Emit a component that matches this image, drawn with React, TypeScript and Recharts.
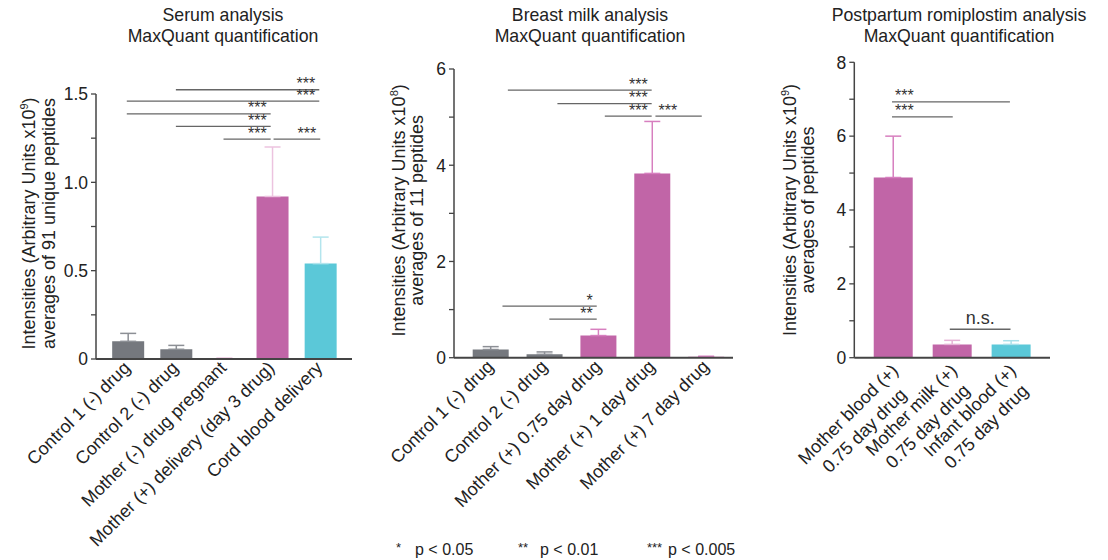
import React from 'react';
import { BarChart, Bar, XAxis, YAxis, ErrorBar, ReferenceLine } from 'recharts';

const FONT = '"Liberation Sans", Arial, Helvetica, sans-serif';
const INK = '#222';
const AXIS = '#444';
const GRAY = '#75787e';
const MAGENTA = '#c165a7';
const CYAN = '#5bc8d8';

// Serum analysis
const serumCategories = [
  'Control 1 (-) drug',
  'Control 2 (-) drug',
  'Mother (-) drug pregnant',
  'Mother (+) delivery (day 3 drug)',
  'Cord blood delivery',
];
const serumMeans = [0.1, 0.055, 0.004, 0.92, 0.54];
const serumErrors = [0.045, 0.022, 0, 0.28, 0.15];
const serumFills = [GRAY, GRAY, MAGENTA, MAGENTA, CYAN];
const serumErrorColors = ['#8c8f95', '#8c8f95', '#ecc3df', '#ecc3df', '#b3e5ed'];
const serumTicks = [0, 0.25, 0.5, 0.75, 1, 1.25, 1.5];
const serumTickLabels = ['0', '', '0.5', '', '1.0', '', '1.5'];
const serumSig = [
  { x1: 0.99, x2: 3.97, y: 1.524, text: '***', align: 'right' },
  { x1: -0.03, x2: 3.97, y: 1.46, text: '***', align: 'right' },
  { x1: -0.03, x2: 2.96, y: 1.388, text: '***', align: 'right' },
  { x1: 0.99, x2: 2.96, y: 1.317, text: '***', align: 'right' },
  { x1: 1.98, x2: 2.96, y: 1.245, text: '***', align: 'right' },
  { x1: 3.02, x2: 3.99, y: 1.245, text: '***', align: 'right' },
];

// Breast milk analysis
const milkCategories = [
  'Control 1 (-) drug',
  'Control 2 (-) drug',
  'Mother (+) 0.75 day drug',
  'Mother (+) 1 day drug',
  'Mother (+) 7 day drug',
];
const milkMeans = [0.17, 0.07, 0.46, 3.83, 0.02];
const milkErrors = [0.06, 0.05, 0.13, 1.08, 0.01];
const milkFills = [GRAY, GRAY, MAGENTA, MAGENTA, MAGENTA];
const milkErrorColors = ['#8c8f95', '#8c8f95', '#d77fbf', '#d77fbf', '#d77fbf'];
const milkTicks = [0, 1, 2, 3, 4, 5, 6];
const milkTickLabels = ['0', '', '2', '', '4', '', '6'];
const milkSig = [
  { x1: 0.32, x2: 2.99, y: 5.56, text: '***', align: 'right' },
  { x1: 1.24, x2: 2.99, y: 5.28, text: '***', align: 'right' },
  { x1: 2.12, x2: 2.99, y: 5.02, text: '***', align: 'right' },
  { x1: 3.06, x2: 3.92, y: 5.02, text: '***', align: 'left' },
  { x1: 0.22, x2: 1.97, y: 1.07, text: '*', align: 'right' },
  { x1: 1.09, x2: 1.97, y: 0.8, text: '**', align: 'right' },
];

// Postpartum romiplostim analysis
const romiCategories = [
  'Mother blood (+)\n0.75 day drug',
  'Mother milk (+)\n0.75 day drug',
  'Infant blood (+)\n0.75 day drug',
];
const romiMeans = [4.88, 0.36, 0.36];
const romiErrors = [1.12, 0.11, 0.1];
const romiFills = [MAGENTA, MAGENTA, CYAN];
const romiErrorColors = ['#d77fbf', '#e6b3d6', '#a9e0ea'];
const romiTicks = [0, 1, 2, 3, 4, 5, 6, 7, 8];
const romiTickLabels = ['0', '', '2', '', '4', '', '6', '', '8'];
const romiSig = [
  { x1: -0.02, x2: 1.98, y: 6.93, text: '***', align: 'left' },
  { x1: -0.02, x2: 1.01, y: 6.52, text: '***', align: 'left' },
  { x1: 0.96, x2: 1.99, y: 0.77, text: 'n.s.', align: 'center' },
];

const legendItems = [
  { stars: '*', text: 'p < 0.05' },
  { stars: '**', text: 'p < 0.01' },
  { stars: '***', text: 'p < 0.005' },
];

const LABEL_SIZE = 18;
const TICK_SIZE = 17.5;

let measureCtx: CanvasRenderingContext2D | null = null;
function textWidth(s: string, size: number) {
  if (!measureCtx) measureCtx = document.createElement('canvas').getContext('2d');
  if (!measureCtx) return s.length * size * 0.5;
  measureCtx.font = `${size}px "Liberation Sans"`;
  return measureCtx.measureText(s).width;
}

type Sig = { x1: number; x2: number; y: number; text: string; align: string };

interface PanelProps {
  left: number;
  width: number;
  plot: { l: number; r: number; t: number; b: number };
  categories: string[];
  means: number[];
  errors: number[];
  fills: string[];
  errorColors: string[];
  yTicks: number[];
  yTickLabels: string[];
  xDomain: [number, number];
  barSize: number;
  sig: Sig[];
  yLabel: { main: string; sup: string; sub: string; o1: number; o2: number; dy: number };
  tickShift: { dx: number; dy: number };
}

function Panel(p: PanelProps) {
  const yAxisWidth = 40;
  const xAxisHeight = 20;
  const data = p.categories.map((c, i) => {
    const row: Record<string, unknown> = { i };
    row[`v${i}`] = p.means[i];
    row[`e${i}`] = [0, p.errors[i]];
    return row;
  });

  const renderYTick = (t: any) => {
    const idx = p.yTicks.indexOf(t.payload.value);
    const label = p.yTickLabels[idx];
    if (!label) return <g />;
    return (
      <text x={t.x} y={t.y} dy="0.36em" textAnchor="end" fontSize={TICK_SIZE} fill={INK} fontFamily={FONT}>
        {label}
      </text>
    );
  };

  const renderXTick = (t: any) => {
    const lines = p.categories[t.payload.value].split('\n');
    const widths = lines.map((l) => textWidth(l, LABEL_SIZE));
    const maxW = Math.max(...widths);
    return (
      <g transform={`translate(${t.x + p.tickShift.dx}, ${t.y + p.tickShift.dy}) rotate(-45)`}>
        {lines.map((l, k) => (
          <text
            key={k}
            x={-(maxW - widths[k]) / 2}
            y={k * 23}
            textAnchor="end"
            fontSize={LABEL_SIZE}
            fill={INK}
            fontFamily={FONT}
          >
            {l}
          </text>
        ))}
      </g>
    );
  };

  const renderYLabel = (lp: any) => {
    const vb = lp.viewBox;
    const right = vb.x + vb.width;
    const cy = vb.y + vb.height / 2 + p.yLabel.dy;
    return (
      <g fontFamily={FONT} fontSize={LABEL_SIZE} fill={INK}>
        <text transform={`translate(${right - p.yLabel.o1}, ${cy}) rotate(-90)`} textAnchor="middle">
          {p.yLabel.main}
          <tspan dy={-7} fontSize={11}>
            {p.yLabel.sup}
          </tspan>
          <tspan dy={7}>)</tspan>
        </text>
        <text transform={`translate(${right - p.yLabel.o2}, ${cy}) rotate(-90)`} textAnchor="middle">
          {p.yLabel.sub}
        </text>
      </g>
    );
  };

  const sigLabel = (s: Sig) => (lp: any) => {
    const vb = lp.viewBox;
    const isNs = s.align === 'center';
    const x =
      s.align === 'left' ? vb.x + 3 : s.align === 'right' ? vb.x + vb.width - 4 : vb.x + vb.width / 2;
    const anchor = s.align === 'left' ? 'start' : s.align === 'right' ? 'end' : 'middle';
    return (
      <text
        x={x}
        y={vb.y + (isNs ? -5 : -0.5)}
        textAnchor={anchor}
        fontSize={isNs ? LABEL_SIZE : 16}
        fill="#333"
        fontFamily={FONT}
      >
        {s.text}
      </text>
    );
  };

  return (
    <div style={{ position: 'absolute', left: p.left, top: 0 }}>
      <BarChart
        width={p.width}
        height={560}
        data={data}
        margin={{
          left: p.plot.l - p.left - yAxisWidth,
          right: p.left + p.width - p.plot.r,
          top: p.plot.t,
          bottom: 560 - p.plot.b - xAxisHeight,
        }}
      >
        <XAxis
          dataKey="i"
          type="number"
          domain={p.xDomain}
          ticks={p.categories.map((_, i) => i)}
          interval={0}
          height={xAxisHeight}
          tickLine={false}
          tickSize={0}
          tickMargin={0}
          axisLine={{ stroke: AXIS, strokeWidth: 2 }}
          tick={renderXTick}
        />
        <YAxis
          type="number"
          domain={[p.yTicks[0], p.yTicks[p.yTicks.length - 1]]}
          ticks={p.yTicks}
          interval={0}
          width={yAxisWidth}
          tickSize={5}
          tickMargin={3}
          tickLine={{ stroke: AXIS, strokeWidth: 1.3 }}
          axisLine={{ stroke: AXIS, strokeWidth: 1.5 }}
          tick={renderYTick}
          label={renderYLabel}
        />
        {p.categories.map((_, i) => (
          <Bar
            key={i}
            dataKey={`v${i}`}
            stackId="s"
            fill={p.fills[i]}
            barSize={p.barSize}
            isAnimationActive={false}
          >
            <ErrorBar
              dataKey={`e${i}`}
              direction="y"
              width={8}
              stroke={p.errorColors[i]}
              strokeWidth={1.5}
              isAnimationActive={false}
            />
          </Bar>
        ))}
        {p.sig.map((s, k) => (
          <ReferenceLine
            key={k}
            segment={[
              { x: s.x1, y: s.y },
              { x: s.x2, y: s.y },
            ]}
            stroke="#666"
            strokeWidth={1.3}
            ifOverflow="visible"
            label={sigLabel(s)}
          />
        ))}
      </BarChart>
    </div>
  );
}

function Title({ cx, lines }: { cx: number; lines: string[] }) {
  return (
    <div
      style={{
        position: 'absolute',
        left: cx,
        top: 5,
        transform: 'translateX(-50%)',
        textAlign: 'center',
        whiteSpace: 'nowrap',
        fontSize: 17.7,
        lineHeight: '21px',
        color: INK,
      }}
    >
      {lines.map((l) => (
        <div key={l}>{l}</div>
      ))}
    </div>
  );
}

export default function App() {
  return (
    <div
      style={{
        position: 'absolute',
        left: 0,
        top: 0,
        width: 1108,
        height: 560,
        background: '#fff',
        fontFamily: FONT,
        overflow: 'hidden',
      }}
    >
      <Panel
        left={0}
        width={370}
        plot={{ l: 96, r: 352, t: 94, b: 359 }}
        categories={serumCategories}
        means={serumMeans}
        errors={serumErrors}
        fills={serumFills}
        errorColors={serumErrorColors}
        yTicks={serumTicks}
        yTickLabels={serumTickLabels}
        xDomain={[-0.67, 4.65]}
        barSize={32}
        sig={serumSig}
        yLabel={{
          main: 'Intensities (Arbitrary Units x10',
          sup: '9',
          sub: 'averages of 91 unique peptides',
          o1: 61,
          o2: 41,
          dy: -3,
        }}
        tickShift={{ dx: 3, dy: 10 }}
      />
      <Panel
        left={370}
        width={380}
        plot={{ l: 454, r: 733, t: 69, b: 357.7 }}
        categories={milkCategories}
        means={milkMeans}
        errors={milkErrors}
        fills={milkFills}
        errorColors={milkErrorColors}
        yTicks={milkTicks}
        yTickLabels={milkTickLabels}
        xDomain={[-0.68, 4.5]}
        barSize={36}
        sig={milkSig}
        yLabel={{
          main: 'Intensities (Arbitrary Units x10',
          sup: '8',
          sub: 'averages of 11 peptides',
          o1: 49,
          o2: 31,
          dy: -3,
        }}
        tickShift={{ dx: 4, dy: 10 }}
      />
      <Panel
        left={750}
        width={358}
        plot={{ l: 854.3, r: 1050, t: 62.3, b: 357.7 }}
        categories={romiCategories}
        means={romiMeans}
        errors={romiErrors}
        fills={romiFills}
        errorColors={romiErrorColors}
        yTicks={romiTicks}
        yTickLabels={romiTickLabels}
        xDomain={[-0.66, 2.66]}
        barSize={39}
        sig={romiSig}
        yLabel={{
          main: 'Intensities (Arbitrary Units x10',
          sup: '9',
          sub: 'averages of peptides',
          o1: 58,
          o2: 40,
          dy: 0,
        }}
        tickShift={{ dx: 6, dy: 14 }}
      />
      <Title cx={223} lines={['Serum analysis', 'MaxQuant quantification']} />
      <Title cx={590} lines={['Breast milk analysis', 'MaxQuant quantification']} />
      <Title cx={959} lines={['Postpartum romiplostim analysis', 'MaxQuant quantification']} />
      {legendItems.map((it, k) => (
        <React.Fragment key={it.text}>
          <span
            style={{
              position: 'absolute',
              left: [396, 518, 647][k],
              top: 538,
              fontSize: 13,
              lineHeight: '20px',
              color: INK,
            }}
          >
            {it.stars}
          </span>
          <span
            style={{
              position: 'absolute',
              left: [415, 540, 668][k],
              top: 540,
              fontSize: 16,
              lineHeight: '20px',
              color: INK,
              whiteSpace: 'nowrap',
            }}
          >
            {it.text}
          </span>
        </React.Fragment>
      ))}
    </div>
  );
}
